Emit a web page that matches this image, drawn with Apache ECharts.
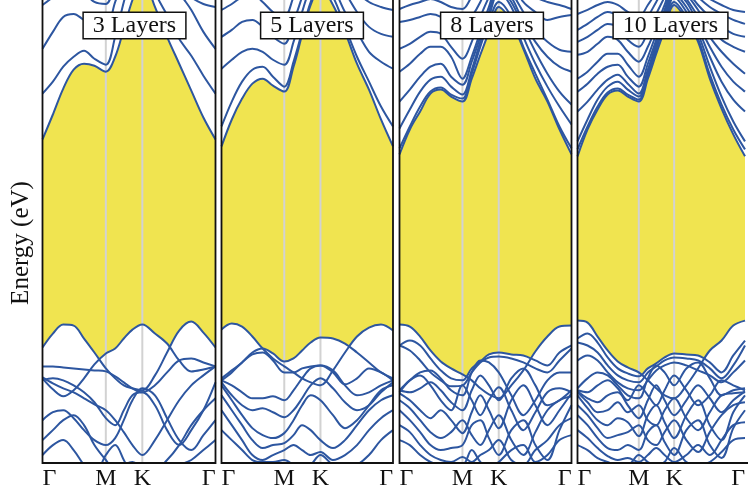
<!DOCTYPE html>
<html>
<head>
<meta charset="utf-8">
<script src="https://cdn.jsdelivr.net/npm/echarts@6/dist/echarts.min.js"></script>
<style>html,body{margin:0;padding:0;background:#fff;}#c{width:748px;height:495px;}</style>
</head>
<body>
<div id="c"></div>
<script>
// ---- k-path (fraction of Γ-M-K-Γ path) ----
const K_PATH = [0, 0.06, 0.12, 0.18, 0.24, 0.30, 0.366, 0.42, 0.47, 0.52, 0.577, 0.65, 0.72, 0.79, 0.86, 0.93, 1.0];
const TICK_POS = [0, 0.366, 0.577, 1];
const TICK_LABELS = ['Γ', 'M', 'K', 'Γ'];
const PANEL_TITLES = ['3 Layers', '5 Layers', '8 Layers', '10 Layers'];
const Y_NAME = 'Energy (eV)';
const E_MIN = -2.23, E_MAX = 2.42;

// ---- 3 layers (eV) ----
const l3c1 = [1.02,1.27,1.53,1.72,1.78,1.76,1.70,1.85,2.13,2.42,2.65,2.35,2.05,1.78,1.51,1.24,1.02];
const l3c2 = [1.48,1.60,1.75,1.85,1.91,1.83,1.77,2.05,2.40,2.70,2.90,2.50,2.27,2.03,1.86,1.66,1.48];
const l3c3 = [1.93,2.10,2.25,2.28,2.22,2.18,2.15,2.40,2.65,2.90,3.10,2.95,2.75,2.50,2.32,2.10,1.93];
const l3c4 = [2.37,2.45,2.55,2.60,2.50,2.40,2.38,2.60,2.80,3.00,3.20,3.00,2.80,2.60,2.45,2.38,2.35];
const l3v1 = [-1.07,-0.93,-0.84,-0.85,-0.98,-1.12,-1.28,-1.38,-1.45,-1.48,-1.50,-1.35,-1.12,-0.90,-0.81,-0.92,-1.07];
const l3v2 = [-1.38,-1.49,-1.56,-1.50,-1.38,-1.24,-1.13,-1.08,-0.98,-0.89,-0.84,-0.93,-1.03,-1.20,-1.31,-1.29,-1.26];
const l3v3 = [-1.26,-1.26,-1.27,-1.28,-1.29,-1.30,-1.31,-1.36,-1.42,-1.48,-1.52,-1.45,-1.32,-1.20,-1.18,-1.22,-1.26];
const l3v4 = [-1.37,-1.43,-1.48,-1.52,-1.58,-1.64,-1.70,-1.80,-1.92,-2.05,-2.15,-2.00,-1.80,-1.60,-1.45,-1.35,-1.26];
const l3v5 = [-1.40,-1.38,-1.40,-1.45,-1.52,-1.62,-1.78,-1.85,-1.70,-1.55,-1.52,-1.65,-1.90,-2.05,-1.90,-1.70,-1.42];
const l3v6 = [-1.80,-1.72,-1.70,-1.78,-1.90,-2.00,-2.05,-1.98,-1.80,-1.60,-1.48,-1.55,-1.78,-2.00,-2.10,-1.95,-1.80];
const l3v7 = [-2.00,-1.90,-1.80,-1.75,-1.85,-2.05,-2.20,-2.30,-2.25,-2.22,-2.28,-2.30,-2.20,-2.05,-1.85,-1.70,-1.58];
const l3v8 = [-2.15,-2.05,-2.00,-2.10,-2.25,-2.35,-2.15,-2.05,-2.20,-2.35,-2.40,-2.35,-2.30,-2.25,-2.20,-2.10,-2.00];

// ---- 5 layers ----
const l5c1 = [0.95,1.22,1.43,1.58,1.63,1.56,1.50,1.75,2.07,2.37,2.55,2.37,2.10,1.78,1.52,1.22,0.95];
const l5c2 = [1.15,1.40,1.60,1.72,1.75,1.65,1.55,1.80,2.10,2.40,2.60,2.45,2.15,1.85,1.60,1.35,1.15];
const l5c3 = [1.73,1.82,1.90,1.93,1.90,1.82,1.77,2.00,2.30,2.55,2.70,2.55,2.30,2.10,1.90,1.80,1.73];
const l5c4 = [2.05,2.12,2.20,2.22,2.15,2.05,1.98,2.20,2.45,2.70,2.80,2.70,2.50,2.30,2.15,2.08,2.05];
const l5c5 = [2.32,2.38,2.45,2.48,2.40,2.30,2.25,2.45,2.65,2.80,2.90,2.80,2.65,2.50,2.40,2.35,2.32];
const l5v1 = [-0.89,-0.83,-0.86,-0.96,-1.08,-1.18,-1.26,-1.32,-1.38,-1.42,-1.45,-1.30,-1.12,-0.96,-0.87,-0.84,-0.90];
const l5v2 = [-1.38,-1.30,-1.22,-1.12,-1.08,-1.13,-1.21,-1.18,-1.10,-1.02,-0.97,-0.98,-1.03,-1.12,-1.22,-1.32,-1.38];
const l5v3 = [-1.40,-1.32,-1.22,-1.14,-1.12,-1.20,-1.32,-1.32,-1.28,-1.26,-1.25,-1.32,-1.44,-1.38,-1.28,-1.32,-1.40];
const l5v4 = [-1.40,-1.45,-1.52,-1.58,-1.58,-1.56,-1.60,-1.50,-1.38,-1.28,-1.25,-1.30,-1.45,-1.55,-1.52,-1.45,-1.40];
const l5v5 = [-1.42,-1.55,-1.65,-1.70,-1.68,-1.72,-1.77,-1.70,-1.58,-1.45,-1.38,-1.48,-1.62,-1.70,-1.65,-1.52,-1.42];
const l5v6 = [-1.45,-1.60,-1.75,-1.88,-1.95,-1.98,-1.93,-1.80,-1.65,-1.55,-1.60,-1.75,-1.88,-1.80,-1.65,-1.50,-1.45];
const l5v7 = [-1.55,-1.70,-1.85,-2.00,-2.08,-2.05,-2.03,-1.95,-1.85,-1.90,-2.00,-2.08,-2.00,-1.85,-1.70,-1.60,-1.55];
const l5v8 = [-1.70,-1.85,-2.00,-2.15,-2.20,-2.15,-2.10,-2.05,-2.10,-2.15,-2.12,-2.20,-2.15,-2.05,-1.90,-1.78,-1.70];
const l5v9 = [-1.90,-2.00,-2.10,-2.20,-2.22,-2.22,-2.20,-2.25,-2.30,-2.25,-2.15,-2.25,-2.30,-2.25,-2.15,-2.00,-1.90];

// ---- 8 layers ----
const l8c1 = [0.87,1.12,1.30,1.48,1.52,1.45,1.40,1.63,1.87,2.10,2.35,2.20,1.93,1.63,1.40,1.12,0.87];
const l8c2 = [0.93,1.15,1.35,1.50,1.54,1.47,1.43,1.68,1.95,2.20,2.40,2.25,1.95,1.68,1.42,1.15,0.93];
const l8c3 = [1.13,1.32,1.50,1.62,1.65,1.55,1.47,1.72,2.00,2.25,2.50,2.35,2.05,1.78,1.55,1.35,1.17];
const l8c4 = [1.40,1.52,1.65,1.75,1.78,1.65,1.57,1.80,2.05,2.30,2.55,2.40,2.15,1.90,1.68,1.50,1.37];
const l8c5 = [1.70,1.78,1.88,1.95,1.95,1.85,1.63,1.85,2.10,2.35,2.60,2.45,2.20,2.00,1.85,1.75,1.70];
const l8c6 = [1.93,1.98,2.05,2.10,2.08,1.95,1.83,2.00,2.25,2.45,2.65,2.50,2.30,2.12,2.00,1.92,1.90];
const l8c7 = [2.20,2.22,2.25,2.28,2.25,2.15,2.13,2.25,2.40,2.60,2.75,2.60,2.40,2.30,2.22,2.25,2.27];
const l8c8 = [2.33,2.37,2.40,2.43,2.40,2.35,2.33,2.45,2.55,2.70,2.80,2.70,2.55,2.45,2.40,2.37,2.33];
const l8v1 = [-0.84,-0.86,-0.96,-1.10,-1.21,-1.28,-1.34,-1.40,-1.48,-1.54,-1.58,-1.45,-1.30,-1.11,-0.96,-0.86,-0.85];
const l8v2 = [-1.05,-1.00,-1.05,-1.18,-1.30,-1.38,-1.40,-1.28,-1.21,-1.14,-1.12,-1.14,-1.15,-1.20,-1.25,-1.12,-1.05];
const l8v3 = [-1.05,-1.10,-1.20,-1.32,-1.40,-1.46,-1.45,-1.32,-1.22,-1.17,-1.16,-1.18,-1.22,-1.28,-1.32,-1.20,-1.08];
const l8v4 = [-1.50,-1.40,-1.32,-1.30,-1.38,-1.50,-1.55,-1.32,-1.20,-1.22,-1.32,-1.55,-1.75,-1.60,-1.40,-1.32,-1.32];
const l8v5 = [-1.50,-1.52,-1.48,-1.42,-1.50,-1.62,-1.70,-1.50,-1.35,-1.45,-1.60,-1.38,-1.28,-1.45,-1.65,-1.60,-1.50];
const l8v6 = [-1.52,-1.40,-1.35,-1.45,-1.60,-1.70,-1.45,-1.60,-1.75,-1.60,-1.47,-1.70,-1.90,-1.72,-1.52,-1.48,-1.52];
const l8v7 = [-1.53,-1.60,-1.70,-1.78,-1.70,-1.80,-1.93,-1.72,-1.55,-1.70,-1.88,-1.60,-1.45,-1.65,-1.85,-1.70,-1.53];
const l8v8 = [-1.60,-1.68,-1.80,-1.92,-1.98,-1.92,-1.80,-1.95,-2.05,-1.90,-1.75,-2.00,-2.15,-1.92,-1.70,-1.60,-1.56];
const l8v9 = [-1.70,-1.80,-1.92,-2.05,-2.10,-2.08,-2.05,-1.85,-1.80,-1.98,-2.15,-1.90,-1.80,-2.05,-2.20,-1.90,-1.65];
const l8v10 = [-1.85,-1.92,-2.05,-2.15,-2.20,-2.22,-2.17,-2.22,-2.15,-2.10,-2.00,-2.20,-2.25,-2.10,-2.00,-1.85,-1.78];
const l8v11 = [-2.00,-2.05,-2.15,-2.22,-2.25,-2.25,-2.25,-2.10,-2.22,-2.28,-2.22,-2.10,-2.05,-2.22,-2.15,-2.00,-1.95];

// ---- 10 layers ----
const l10c1 = [0.85,1.12,1.32,1.47,1.51,1.45,1.40,1.63,1.88,2.12,2.37,2.22,2.00,1.63,1.33,1.07,0.85];
const l10c2 = [0.92,1.15,1.35,1.49,1.53,1.47,1.42,1.67,1.92,2.18,2.40,2.25,2.03,1.67,1.37,1.12,0.92];
const l10c3 = [1.00,1.22,1.42,1.55,1.60,1.52,1.45,1.70,1.95,2.20,2.45,2.30,2.08,1.75,1.45,1.20,1.00];
const l10c4 = [1.30,1.40,1.52,1.62,1.67,1.58,1.48,1.72,1.98,2.23,2.48,2.35,2.13,1.85,1.60,1.42,1.30];
const l10c5 = [1.50,1.58,1.68,1.75,1.77,1.65,1.55,1.78,2.02,2.28,2.50,2.40,2.18,1.95,1.75,1.60,1.50];
const l10c6 = [1.63,1.70,1.80,1.88,1.88,1.77,1.65,1.85,2.08,2.32,2.55,2.43,2.25,2.05,1.90,1.78,1.68];
const l10c7 = [1.87,1.90,1.98,2.05,2.02,1.90,1.80,1.95,2.15,2.37,2.60,2.48,2.32,2.15,2.02,1.95,1.90];
const l10c8 = [2.00,2.05,2.12,2.18,2.15,2.02,1.95,2.10,2.28,2.45,2.65,2.52,2.37,2.25,2.15,2.08,2.05];
const l10c9 = [2.12,2.18,2.25,2.30,2.26,2.15,2.10,2.25,2.40,2.55,2.70,2.58,2.45,2.35,2.28,2.22,2.18];
const l10c10 = [2.28,2.32,2.37,2.40,2.37,2.30,2.25,2.37,2.50,2.65,2.75,2.65,2.50,2.43,2.37,2.32,2.30];
const l10v1 = [-0.80,-0.82,-0.96,-1.10,-1.21,-1.27,-1.32,-1.40,-1.48,-1.55,-1.58,-1.45,-1.28,-1.10,-1.00,-0.85,-0.80];
const l10v2 = [-0.98,-0.93,-1.02,-1.17,-1.28,-1.33,-1.36,-1.28,-1.23,-1.17,-1.13,-1.14,-1.15,-1.22,-1.32,-1.15,-1.00];
const l10v3 = [-1.02,-1.05,-1.12,-1.25,-1.35,-1.40,-1.42,-1.32,-1.26,-1.20,-1.17,-1.18,-1.20,-1.28,-1.38,-1.25,-1.05];
const l10v4 = [-1.20,-1.15,-1.20,-1.32,-1.42,-1.48,-1.50,-1.40,-1.30,-1.25,-1.22,-1.25,-1.30,-1.35,-1.42,-1.32,-1.20];
const l10v5 = [-1.48,-1.38,-1.32,-1.35,-1.45,-1.55,-1.58,-1.38,-1.25,-1.32,-1.45,-1.28,-1.22,-1.38,-1.55,-1.50,-1.48];
const l10v6 = [-1.50,-1.52,-1.45,-1.40,-1.48,-1.60,-1.45,-1.55,-1.65,-1.50,-1.35,-1.50,-1.65,-1.55,-1.40,-1.45,-1.50];
const l10v7 = [-1.51,-1.58,-1.62,-1.55,-1.52,-1.65,-1.78,-1.60,-1.45,-1.60,-1.75,-1.60,-1.45,-1.58,-1.72,-1.60,-1.51];
const l10v8 = [-1.52,-1.62,-1.72,-1.70,-1.62,-1.72,-1.65,-1.80,-1.85,-1.70,-1.58,-1.78,-1.90,-1.72,-1.55,-1.53,-1.52];
const l10v9 = [-1.55,-1.68,-1.80,-1.85,-1.78,-1.82,-1.96,-1.75,-1.65,-1.82,-1.98,-1.75,-1.60,-1.85,-2.00,-1.72,-1.55];
const l10v10 = [-1.65,-1.75,-1.88,-1.98,-1.95,-1.92,-1.85,-2.00,-2.05,-1.92,-1.80,-2.00,-2.12,-1.92,-1.75,-1.65,-1.62];
const l10v11 = [-1.75,-1.85,-1.98,-2.08,-2.10,-2.05,-2.10,-1.92,-1.85,-2.02,-2.15,-1.90,-1.80,-2.05,-2.18,-1.88,-1.70];
const l10v12 = [-1.90,-1.98,-2.08,-2.16,-2.20,-2.18,-2.22,-2.15,-2.08,-2.15,-2.22,-2.15,-2.05,-2.15,-2.00,-1.85,-1.82];
const l10v13 = [-2.05,-2.10,-2.18,-2.22,-2.25,-2.25,-2.15,-2.22,-2.25,-2.22,-2.08,-2.22,-2.25,-2.22,-2.12,-2.00,-1.98];

const PANELS = [
  { cb: [l3c1, l3c2, l3c3, l3c4], vb: [l3v1, l3v2, l3v3, l3v4, l3v5, l3v6, l3v7, l3v8] },
  { cb: [l5c1, l5c2, l5c3, l5c4, l5c5], vb: [l5v1, l5v2, l5v3, l5v4, l5v5, l5v6, l5v7, l5v8, l5v9] },
  { cb: [l8c1, l8c2, l8c3, l8c4, l8c5, l8c6, l8c7, l8c8], vb: [l8v1, l8v2, l8v3, l8v4, l8v5, l8v6, l8v7, l8v8, l8v9, l8v10, l8v11] },
  { cb: [l10c1, l10c2, l10c3, l10c4, l10c5, l10c6, l10c7, l10c8, l10c9, l10c10],
    vb: [l10v1, l10v2, l10v3, l10v4, l10v5, l10v6, l10v7, l10v8, l10v9, l10v10, l10v11, l10v12, l10v13] }
];

// ---- layout / style ----
const GRID_LEFT = [42.5, 221.5, 399.5, 577.5];
const GRID_W = [173, 171.5, 172, 175];
const GRID_TOP = -2, GRID_H = 465;
const TITLE_DX = [92, 90.5, 92.5, 93];
const YELLOW = '#f0e450';
const BLUE = '#2d56a0';
const GRAY = '#d2d2d2';
const SERIF = '"Liberation Serif", "DejaVu Serif", serif';
const SMOOTH = 0.35;

const chart = echarts.init(document.getElementById('c'), null, { renderer: 'canvas' });

const grids = [], xAxes = [], yAxes = [], series = [], graphics = [];
PANELS.forEach((p, i) => {
  grids.push({ left: GRID_LEFT[i], top: GRID_TOP, width: GRID_W[i], height: GRID_H,
               show: true, backgroundColor: YELLOW, borderWidth: 0 });
  xAxes.push({
    type: 'value', gridIndex: i, min: 0, max: 1,
    axisLine: { show: false }, axisTick: { show: false }, splitLine: { show: false },
    axisLabel: {
      customValues: TICK_POS,
      formatter: function (v) {
        let best = 0;
        TICK_POS.forEach((t, j) => { if (Math.abs(t - v) < Math.abs(TICK_POS[best] - v)) best = j; });
        return TICK_LABELS[best];
      },
      fontFamily: SERIF, fontSize: 24, color: '#111', margin: 4,
      alignMinLabel: 'left', alignMaxLabel: 'right'
    }
  });
  yAxes.push({ type: 'value', gridIndex: i, min: E_MIN, max: E_MAX, show: false, splitLine: { show: false } });

  const toData = arr => K_PATH.map((k, j) => [k, arr[j]]);
  // white fills: above each conduction band, below each valence band
  p.cb.forEach(b => series.push({
    type: 'line', xAxisIndex: i, yAxisIndex: i, data: toData(b), smooth: SMOOTH, symbol: 'none',
    lineStyle: { opacity: 0, width: 0 }, areaStyle: { color: '#fff', opacity: 1, origin: 'end' },
    z: 1, silent: true
  }));
  p.vb.forEach(b => series.push({
    type: 'line', xAxisIndex: i, yAxisIndex: i, data: toData(b), smooth: SMOOTH, symbol: 'none',
    lineStyle: { opacity: 0, width: 0 }, areaStyle: { color: '#fff', opacity: 1, origin: 'start' },
    z: 1, silent: true
  }));
  // high-symmetry vertical lines M and K
  [TICK_POS[1], TICK_POS[2]].forEach(k => series.push({
    type: 'line', xAxisIndex: i, yAxisIndex: i, data: [[k, E_MIN], [k, E_MAX]], symbol: 'none',
    lineStyle: { color: GRAY, width: 2 }, z: 2, silent: true
  }));
  // bands
  p.cb.concat(p.vb).forEach(b => series.push({
    type: 'line', xAxisIndex: i, yAxisIndex: i, data: toData(b), smooth: SMOOTH, symbol: 'none',
    lineStyle: { color: BLUE, width: 2 }, z: 3, silent: true
  }));

  graphics.push({
    type: 'rect', z: 50, silent: true,
    shape: { x: GRID_LEFT[i], y: GRID_TOP, width: GRID_W[i], height: GRID_H },
    style: { fill: 'none', stroke: '#111', lineWidth: 1.8 }
  });
  graphics.push({
    type: 'text', z: 60, silent: true, x: GRID_LEFT[i] + TITLE_DX[i], y: 25.5,
    style: {
      text: PANEL_TITLES[i], font: '24px ' + SERIF, fill: '#111',
      textAlign: 'center', textVerticalAlign: 'middle',
      backgroundColor: '#fff', borderColor: '#111', borderWidth: 1.5, padding: [1, 9, 0, 9]
    }
  });
});

graphics.push({
  type: 'text', z: 60, silent: true, x: 21, y: 243, rotation: Math.PI / 2,
  style: { text: Y_NAME, font: '25px ' + SERIF, fill: '#111', textAlign: 'center', textVerticalAlign: 'middle' }
});

chart.setOption({
  animation: false,
  backgroundColor: '#fff',
  grid: grids, xAxis: xAxes, yAxis: yAxes, series: series, graphic: graphics
});
</script>
</body>
</html>
